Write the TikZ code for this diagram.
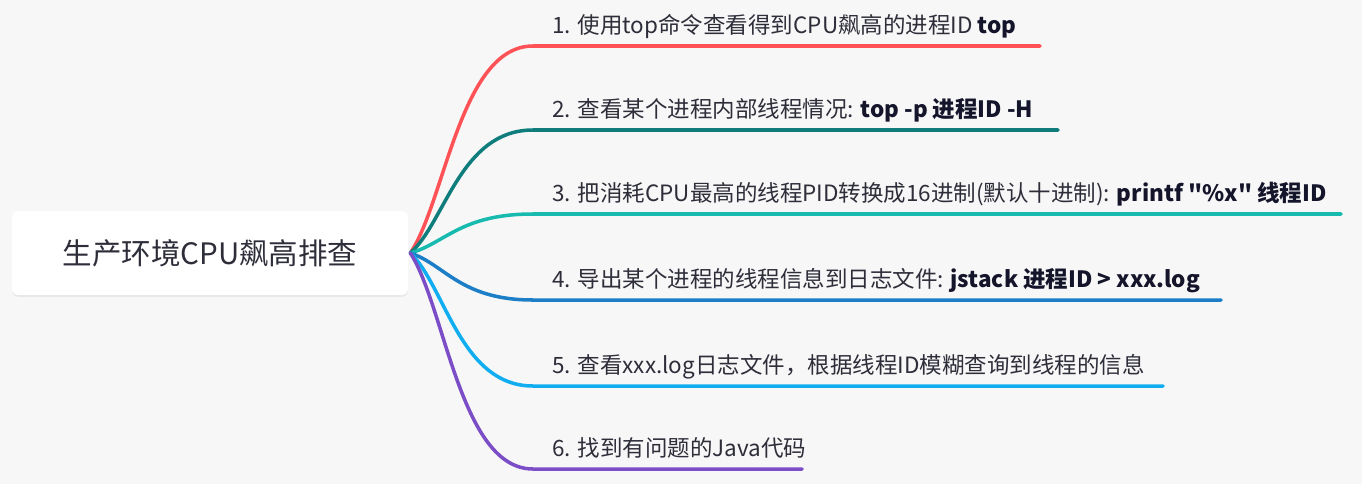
\documentclass[tikz,border=0pt]{standalone}
\usepackage{fontspec}
\setmainfont{Noto Sans CJK SC}[Ligatures=TeXOff]
\usetikzlibrary{calc,shadows}
\definecolor{bgcol}{HTML}{F7F7F7}
\definecolor{txtcol}{HTML}{2E2E3A}
\definecolor{boldcol}{HTML}{14142B}
\definecolor{brA}{HTML}{FF5256}
\definecolor{brB}{HTML}{0E7D7C}
\definecolor{brC}{HTML}{17BAAE}
\definecolor{brD}{HTML}{1B7EC6}
\definecolor{brE}{HTML}{10AEF0}
\definecolor{brF}{HTML}{7B4DC6}
\newcommand{\bt}[1]{\textbf{\color{boldcol}#1}}

\begin{document}
\begin{tikzpicture}[x=0.02cm,y=-0.02cm,
		rootbox/.style={fill=white,rounded corners=0.12cm,minimum width=7.92cm,minimum height=1.68cm,
			font=\fontsize{16.8}{20}\selectfont,text=txtcol,
			drop shadow={shadow xshift=0pt,shadow yshift=-1pt,opacity=0.12}},
		leaf/.style={anchor=base west,inner sep=0pt,font=\fontsize{12.8}{15}\selectfont,text=txtcol},
		branch/.style={line width=2pt,line cap=round}]
		%%%%% START %%%%%
		\fill[bgcol] (0,0) rectangle (1362,484);
		\useasboundingbox (0,0) rectangle (1362,484);
		
		\node[rootbox] (root) at (210,253) {生产环境CPU飙高排查};
		
		\node[leaf] (b1) at (552,33) {1. 使用top命令查看得到CPU飙高的进程ID \bt{top}};
		\node[leaf] (b2) at (552,117) {2. 查看某个进程内部线程情况: \bt{top -p 进程ID -H}};
		\node[leaf] (b3) at (552,201) {3. 把消耗CPU最高的线程PID转换成16进制(默认十进制): \bt{printf "\%x" 线程ID}};
		\node[leaf] (b4) at (552,287) {4. 导出某个进程的线程信息到日志文件: \bt{jstack 进程ID > xxx.log}};
		\node[leaf] (b5) at (552,373) {5. 查看xxx.log日志文件，根据线程ID模糊查询到线程的信息};
		\node[leaf] (b6) at (552,456) {6. 找到有问题的Java代码};
		
		\coordinate (s1) at (533,46);  \coordinate (e1) at (1040,46);
		\coordinate (s2) at (533,130); \coordinate (e2) at (1058,130);
		\coordinate (s3) at (533,214); \coordinate (e3) at (1341,214);
		\coordinate (s4) at (533,300); \coordinate (e4) at (1221,300);
		\coordinate (s5) at (533,386); \coordinate (e5) at (1163,386);
		\coordinate (s6) at (533,469); \coordinate (e6) at (802,469);
		
		\foreach \i/\c in {1/brA,2/brB,3/brC,4/brD,5/brE,6/brF}{
			\draw[branch,\c] ($(root.east)+(2,0)$) .. controls ($(root.east)!0.25!(root.east|-s\i)+(37,0)$) and ($(root.east|-s\i)+(52,0)$) .. (s\i) -- (e\i);
		}
		%%%%% END %%%%%
	\end{tikzpicture}
\end{document}
